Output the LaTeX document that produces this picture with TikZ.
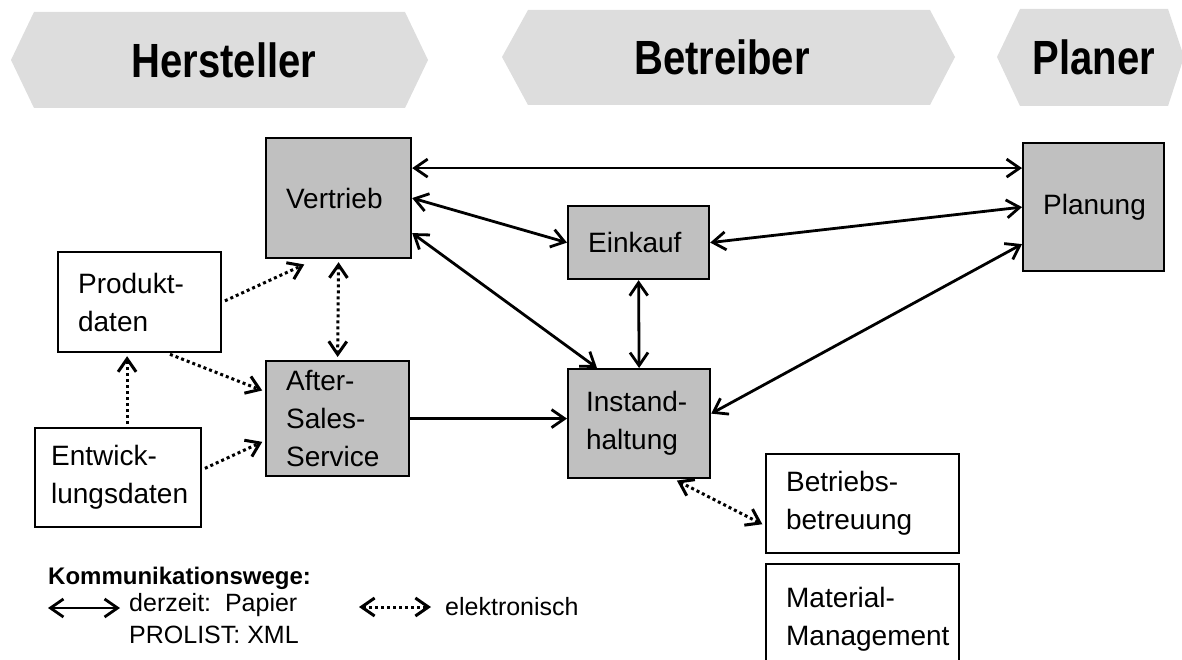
\documentclass[tikz,border=0pt]{standalone}
\usepackage{fontspec}
\setmainfont{Liberation Sans}
\usetikzlibrary{arrows.meta}

\begin{document}
\begin{tikzpicture}[x=1pt,y=-1pt,
	kasten/.style={draw,line width=2.2pt,align=left,anchor=north west,inner xsep=20pt,inner ysep=0pt,font=\fontsize{28}{38}\selectfont},
	grau/.style={kasten,fill=boxgray},
	kopf/.style={font=\fontsize{40}{46}\selectfont\bfseries},
	papierpfeil/.style={line width=2.8pt,>={Straight Barb[length=13pt,width=18pt]}},
	elektropfeil/.style={line width=3pt,dash pattern=on 3pt off 3pt,shorten <=3pt,shorten >=3pt,>={Straight Barb[length=13pt,width=18pt]}}]
	\definecolor{boxgray}{HTML}{C0C0C0}
	\definecolor{headgray}{HTML}{DDDDDD}
	\path[use as bounding box,clip] (0,0) rectangle (1182,660);

	\fill[headgray] (11,60) -- (34,12) -- (405,12) -- (428,60) -- (405,108) -- (34,108) -- cycle;
	\fill[headgray] (502,57) -- (528,10) -- (930,10) -- (955,57) -- (930,105) -- (528,105) -- cycle;
	\fill[headgray] (997,57) -- (1020,9) -- (1168,9) -- (1184,57) -- (1168,106) -- (1020,106) -- cycle;
	\node[kopf] (hersteller) at (224,60) {\scalebox{1}[1.2]{Hersteller}};
	\node[kopf] (betreiber) at (722,57) {\scalebox{1}[1.2]{Betreiber}};
	\node[kopf] (planer) at (1094,57) {\scalebox{1}[1.2]{Planer}};

	\node[grau,text width=105pt,minimum height=120pt] (vertrieb) at (265,137) {Vertrieb};
	\node[grau,text width=101pt,minimum height=73pt] (einkauf) at (567,205) {Einkauf};
	\node[grau,text width=101pt,minimum height=128pt] (planung) at (1022,142) {Planung};
	\node[kasten,text width=123pt,minimum height=100pt] (produkt) at (57,251) {Produkt-\\daten};
	\node[grau,text width=103pt,minimum height=115pt] (aftersales) at (265,360) {After-\\Sales-\\Service};
	\node[grau,inner xsep=18pt,text width=106pt,minimum height=109pt] (instand) at (567,368) {Instand-\\haltung};
	\node[kasten,inner xsep=16pt,text width=134pt,minimum height=99pt] (entwicklung) at (34,427) {Entwick-\\lungsdaten};
	\node[kasten,text width=153pt,minimum height=99pt] (betrieb) at (765,453) {Betriebs-\\betreuung};
	\node[kasten,text width=153pt,minimum height=110pt] (material) at (765,563) {Material-\\Management};

	\draw[papierpfeil,<->] ([yshift=30pt]vertrieb.east) -- ([yshift=39pt]planung.west);
	\draw[papierpfeil,<->] (vertrieb.east) -- (einkauf.west);
	\draw[papierpfeil,<->] (einkauf.east) -- (planung.west);
	\draw[papierpfeil,<->] ([yshift=-35pt]vertrieb.east) -- ([xshift=30pt]instand.north west);
	\draw[papierpfeil,<->] (einkauf.south) -- (instand.north);
	\draw[papierpfeil,<->] ([yshift=-37pt]planung.west) -- ([yshift=10pt]instand.east);
	\draw[papierpfeil,->] (aftersales.east) -- (instand.west |- aftersales.east);

	\draw[elektropfeil,->] (produkt.east) -- ([xshift=42pt,yshift=-4pt]vertrieb.south west);
	\draw[elektropfeil,<->] (vertrieb.south) -- (aftersales.north);
	\draw[elektropfeil,->] ([xshift=-55pt]produkt.south east) -- ([yshift=27pt]aftersales.west);
	\draw[elektropfeil,->] ([xshift=9pt]entwicklung.north) -- ([xshift=9pt]entwicklung.north |- produkt.south);
	\draw[elektropfeil,->] ([yshift=8pt]entwicklung.east) -- ([yshift=-22pt]aftersales.west);
	\draw[elektropfeil,<->] ([xshift=-37pt]instand.south east) -- ([yshift=-22pt]betrieb.west);

	\node[anchor=west,inner sep=0pt,font=\fontsize{24}{28}\selectfont\bfseries] (legende) at (48,578) {Kommunikationswege:};
	\coordinate (papierlinks) at (48,608);
	\coordinate (papierrechts) at (120,608);
	\coordinate (elektrolinks) at (356,607);
	\coordinate (elektrorechts) at (434,607);
	\draw[papierpfeil,<->] (papierlinks) -- (papierrechts);
	\draw[elektropfeil,<->] (elektrolinks) -- (elektrorechts);
	\node[anchor=north west,align=left,inner sep=0pt,font=\fontsize{25}{32}\selectfont] (papiertext) at (129,593) {derzeit:\ \ Papier\\PROLIST: XML};
	\node[anchor=west,inner sep=0pt,font=\fontsize{25}{28}\selectfont] (elektrotext) at (445,607) {elektronisch};
\end{tikzpicture}
\end{document}
